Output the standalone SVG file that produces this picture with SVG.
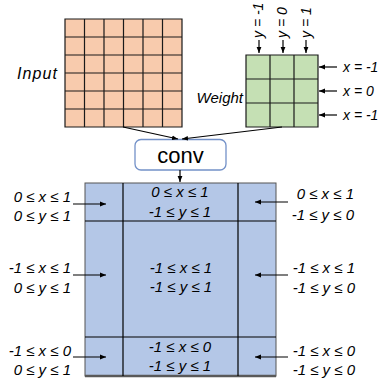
<svg xmlns="http://www.w3.org/2000/svg" width="383" height="381" viewBox="0 0 383 381">
<defs>
<marker id="ah" viewBox="0 0 10 10" refX="10" refY="5" markerWidth="6" markerHeight="6" markerUnits="userSpaceOnUse" orient="auto">
<path d="M0,1 L10,5 L0,9 z" fill="#000"/>
</marker>
</defs>
<style>
text{font-family:"Liberation Sans",Arial,sans-serif;font-style:italic;font-size:15px;fill:#000}
.g{stroke:#1a1a1a;stroke-width:1.2;fill:none}
.c{stroke:#000;stroke-width:1.2;fill:none;marker-end:url(#ah)}
.e{text-anchor:end}
.m{text-anchor:middle}
.s{font-size:14px}
</style>
<rect width="383" height="381" fill="#fff"/>
<g id="input">
<rect x="65" y="19" width="117" height="108" fill="#f8cbad"/>
<path class="g" d="M65,19H182V127H65Z M84.5,19V127 M104,19V127 M123.5,19V127 M143,19V127 M162.5,19V127 M65,37H182 M65,55H182 M65,73H182 M65,91H182 M65,109H182"/>
<text x="17" y="79" style="font-size:16px" textLength="40" lengthAdjust="spacing">Input</text>
</g>
<g id="weight">
<rect x="246" y="55" width="72" height="72" fill="#c5e0b4"/>
<path class="g" d="M246,55H318V127H246Z M270,55V127 M294,55V127 M246,79H318 M246,103H318"/>
<text x="243" y="103" class="e">Weight</text>
<text class="s" transform="translate(263,38) rotate(-90)">y = -1</text>
<text class="s" transform="translate(287,38) rotate(-90)">y = 0</text>
<text class="s" transform="translate(311,38) rotate(-90)">y = 1</text>
<text class="s" x="343" y="72">x = -1</text>
<text class="s" x="343" y="96">x = 0</text>
<text class="s" x="343" y="120">x = -1</text>
</g>
<g id="conv">
<rect x="135" y="139.5" width="91" height="30.5" rx="6" fill="#fff" stroke="#7391c8" stroke-width="1.3"/>
<text x="180.5" y="163" class="m" style="font-style:normal;font-size:22px">conv</text>
</g>
<g id="output">
<rect x="85" y="183" width="191" height="193" fill="#b4c7e7" stroke="#555" stroke-width="1"/>
<path d="M85,376H276" stroke="#595959" stroke-width="2.5"/>
<path class="g" style="stroke:#000" d="M123,183V376 M238,183V376 M85,221H276 M85,337H276"/>
<text x="180" y="197" class="m">0 ≤ x ≤ 1</text>
<text x="180" y="217" class="m">-1 ≤ y ≤ 1</text>
<text x="181" y="273" class="m">-1 ≤ x ≤ 1</text>
<text x="181" y="292" class="m">-1 ≤ y ≤ 1</text>
<text x="180" y="352" class="m">-1 ≤ x ≤ 0</text>
<text x="180" y="371" class="m">-1 ≤ y ≤ 1</text>
</g>
<g id="labels-left">
<text x="71" y="202" class="e">0 ≤ x ≤ 1</text>
<text x="71" y="221" class="e">0 ≤ y ≤ 1</text>
<text x="71" y="273" class="e">-1 ≤ x ≤ 1</text>
<text x="71" y="293" class="e">0 ≤ y ≤ 1</text>
<text x="71" y="356" class="e">-1 ≤ x ≤ 0</text>
<text x="71" y="375" class="e">0 ≤ y ≤ 1</text>
</g>
<g id="labels-right">
<text x="354" y="199" class="e">0 ≤ x ≤ 1</text>
<text x="354" y="220" class="e">-1 ≤ y ≤ 0</text>
<text x="355" y="273" class="e">-1 ≤ x ≤ 1</text>
<text x="355" y="293" class="e">-1 ≤ y ≤ 0</text>
<text x="355" y="356" class="e">-1 ≤ x ≤ 0</text>
<text x="355" y="375" class="e">-1 ≤ y ≤ 0</text>
</g>
<g id="connectors">
<path class="c" d="M123,127L178,139"/>
<path class="c" d="M282,127L182,139"/>
<path class="c" d="M180,170V182"/>
<path class="c" d="M259,40V53"/>
<path class="c" d="M283,40V53"/>
<path class="c" d="M306,40V53"/>
<path class="c" d="M337,67H319"/>
<path class="c" d="M337,91H319"/>
<path class="c" d="M337,115H319"/>
<path class="c" d="M73,204H106"/>
<path class="c" d="M73,275H106"/>
<path class="c" d="M73,357H106"/>
<path class="c" d="M288,202H255"/>
<path class="c" d="M288,275H255"/>
<path class="c" d="M288,357H255"/>
</g>
</svg>
